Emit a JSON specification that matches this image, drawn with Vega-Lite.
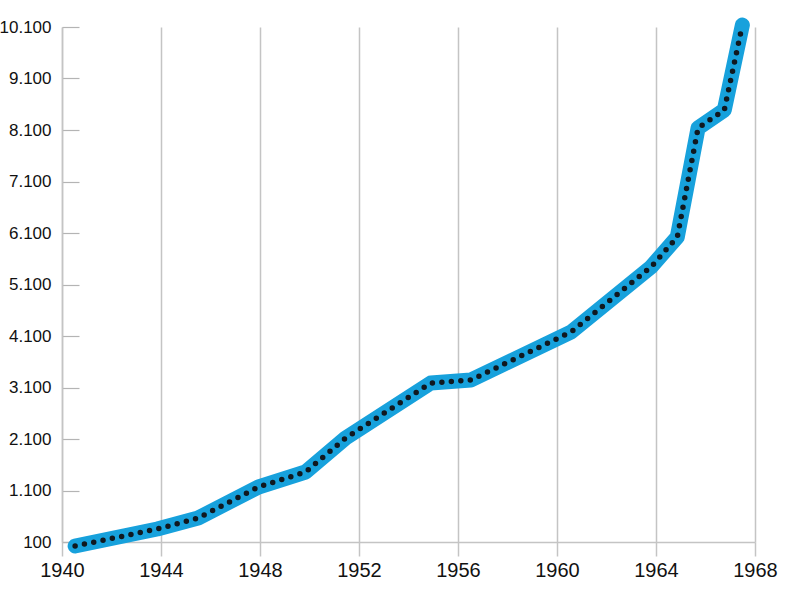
{
  "$schema": "https://vega.github.io/schema/vega-lite/v6.json",
  "width": 693,
  "height": 515,
  "autosize": {"type": "none"},
  "padding": {"left": 62, "top": 27, "right": 45, "bottom": 58},
  "background": "white",
  "data": {
    "values": [
      {"year": 1940.53, "value": 22},
      {"year": 1943.85, "value": 352},
      {"year": 1945.5, "value": 566},
      {"year": 1947.94, "value": 1168},
      {"year": 1949.84, "value": 1459},
      {"year": 1951.46, "value": 2119},
      {"year": 1954.9, "value": 3187},
      {"year": 1956.52, "value": 3246},
      {"year": 1960.57, "value": 4178},
      {"year": 1963.8, "value": 5440},
      {"year": 1964.86, "value": 6022},
      {"year": 1965.7, "value": 8139},
      {"year": 1966.76, "value": 8489},
      {"year": 1967.49, "value": 10139}
    ]
  },
  "encoding": {
    "x": {
      "field": "year",
      "type": "quantitative",
      "scale": {"domain": [1940, 1968], "nice": false, "zero": false},
      "axis": {
        "title": null,
        "values": [1940, 1944, 1948, 1952, 1956, 1960, 1964, 1968],
        "format": "d",
        "grid": true,
        "gridColor": "#c4c4c4",
        "gridWidth": 1.5,
        "domainColor": "#c4c4c4",
        "domainWidth": 1.5,
        "tickColor": "#c4c4c4",
        "tickWidth": 1.5,
        "tickSize": 14,
        "labelPadding": 4,
        "labelFlush": false,
        "labelOverlap": false,
        "labelFont": "Liberation Sans",
        "labelFontSize": 20,
        "labelColor": "#111"
      }
    },
    "y": {
      "field": "value",
      "type": "quantitative",
      "scale": {"domain": [100, 10100], "nice": false, "zero": false},
      "axis": {
        "title": null,
        "values": [100, 1100, 2100, 3100, 4100, 5100, 6100, 7100, 8100, 9100, 10100],
        "labelExpr": "replace(format(datum.value, ','), ',', '.')",
        "grid": false,
        "domainColor": "#c4c4c4",
        "domainWidth": 1.5,
        "tickColor": "#b4b4b4",
        "tickWidth": 1.2,
        "tickSize": -17,
        "labelPadding": 28,
        "labelFlush": false,
        "labelOverlap": false,
        "labelFont": "Liberation Sans",
        "labelFontSize": 17,
        "labelColor": "#111"
      }
    }
  },
  "layer": [
    {
      "mark": {"type": "line", "color": "#17a1dc", "strokeWidth": 15, "strokeJoin": "round", "strokeCap": "round", "clip": false}
    },
    {
      "mark": {"type": "line", "color": "#10181f", "strokeWidth": 5.5, "strokeCap": "round", "strokeDash": [0, 9.5], "clip": false}
    }
  ],
  "config": {"view": {"stroke": null}}
}
